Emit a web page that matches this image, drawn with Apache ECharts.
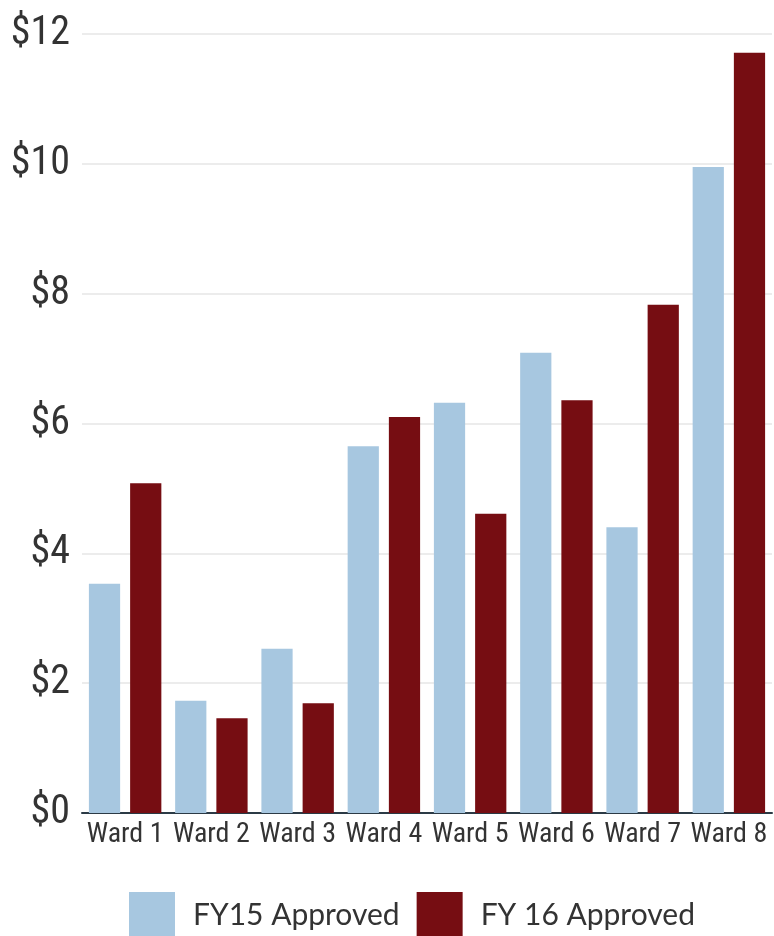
<!DOCTYPE html>
<html>
<head>
<meta charset="utf-8">
<script src="https://cdn.jsdelivr.net/npm/echarts@6/dist/echarts.min.js"></script>
<style>
html,body{margin:0;padding:0;background:#fff;}
#chart{width:774px;height:936px;}
</style>
</head>
<body>
<div id="chart"></div>
<script>
const categories = ['Ward 1','Ward 2','Ward 3','Ward 4','Ward 5','Ward 6','Ward 7','Ward 8'];
const fy15Values = [3.53, 1.73, 2.53, 5.65, 6.32, 7.09, 4.40, 9.95];
const fy16Values = [5.08, 1.46, 1.69, 6.10, 4.61, 6.36, 7.83, 11.71];
const seriesNames = ['FY15 Approved', 'FY 16 Approved'];
const yTicks = [0, 2, 4, 6, 8, 10, 12];

const narrow = '"Roboto Condensed", "DejaVu Sans Condensed", sans-serif';

const chart = echarts.init(document.getElementById('chart'), null, {renderer: 'canvas'});
chart.setOption({
  animation: false,
  backgroundColor: '#ffffff',
  grid: {left: 82, right: 2, top: 34, bottom: 123, containLabel: false, outerBoundsMode: 'none'},
  legend: {
    data: seriesNames,
    left: 129, top: 892, padding: 0,
    itemWidth: 46, itemHeight: 46, itemGap: 17,
    icon: 'rect',
    textStyle: {fontFamily: 'Lato, "Noto Sans", sans-serif', fontSize: 30, color: '#333333', padding: [0,0,0,13]}
  },
  xAxis: {
    type: 'category',
    data: categories,
    axisLine: {show: true, lineStyle: {color: '#2b3a45', width: 2}},
    axisTick: {show: false},
    axisLabel: {interval: 0, hideOverlap: false, fontFamily: narrow, fontWeight: 'normal', fontSize: 28, color: '#333333', margin: 8}
  },
  yAxis: {
    type: 'value',
    min: yTicks[0], max: yTicks[yTicks.length-1], interval: 2,
    axisLine: {show: false},
    axisTick: {show: false},
    splitLine: {show: true, lineStyle: {color: '#e6e6e6', width: 1.5}},
    axisLabel: {fontFamily: narrow, fontWeight: 'normal', fontSize: 40, color: '#333333', margin: 12,
      formatter: v => '$' + v}
  },
  series: [
    {name: seriesNames[0], type: 'bar', data: fy15Values, barCategoryGap: '16%', barGap: '32%',
     itemStyle: {color: '#a7c7e0'}},
    {name: seriesNames[1], type: 'bar', data: fy16Values, barCategoryGap: '16%', barGap: '32%',
     itemStyle: {color: '#760d12'}}
  ]
});
</script>
</body>
</html>
